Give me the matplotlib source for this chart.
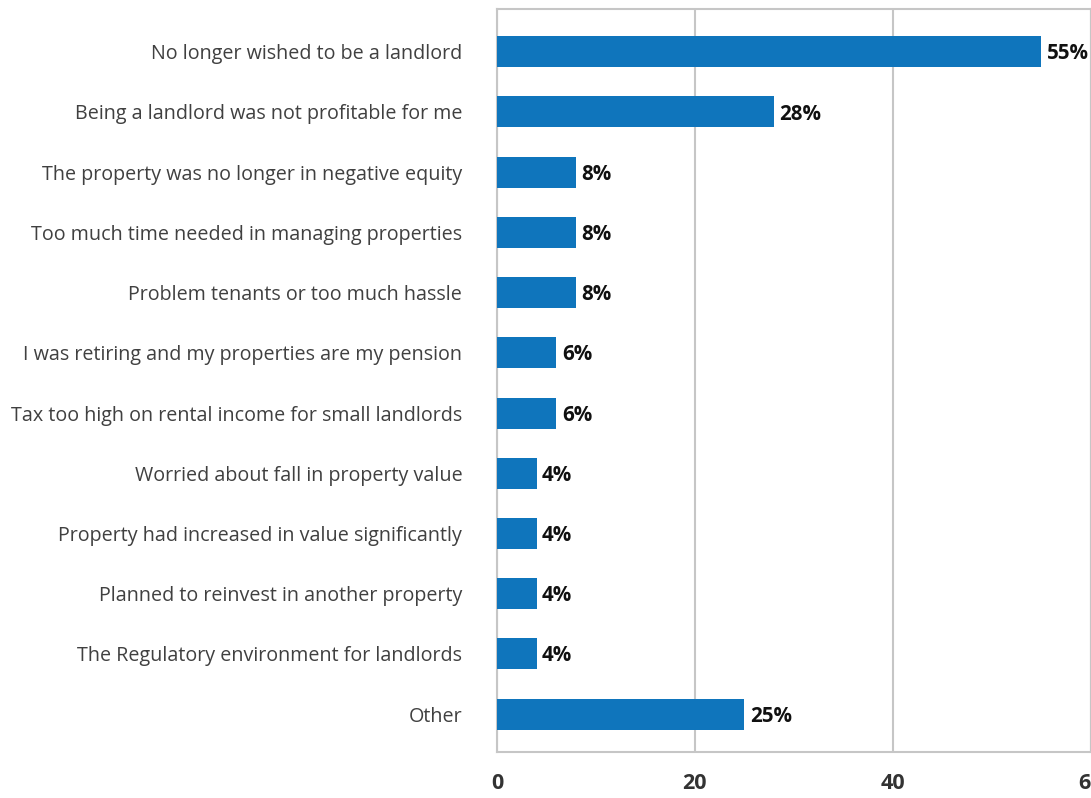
import matplotlib
matplotlib.use("Agg")
import matplotlib.pyplot as plt

# Reasons given for selling rental property (% of respondents)
reasons = [
    "No longer wished to be a landlord",
    "Being a landlord was not profitable for me",
    "The property was no longer in negative equity",
    "Too much time needed in managing properties",
    "Problem tenants or too much hassle",
    "I was retiring and my properties are my pension",
    "Tax too high on rental income for small landlords",
    "Worried about fall in property value",
    "Property had increased in value significantly",
    "Planned to reinvest in another property",
    "The Regulatory environment for landlords",
    "Other",
]
shares = [55, 28, 8, 8, 8, 6, 6, 4, 4, 4, 4, 25]
x_ticks = [0, 20, 40, 60]

plt.rcParams["font.family"] = ["Open Sans", "DejaVu Sans"]

BAR = "#0f75bc"
GRID = "#c6c6c6"

fig = plt.figure(figsize=(10.91, 7.98), dpi=100)
ax = fig.add_axes([497 / 1091, 1 - 752 / 798, (1090.5 - 497) / 1091, (752 - 9) / 798])

pos = list(range(len(reasons)))
ax.barh(pos, shares, height=0.515, color=BAR, zorder=3)

for y, v in zip(pos, shares):
    ax.annotate(f"{v}%", xy=(v, y), xytext=(4, -1.5), textcoords="offset points",
                va="center", ha="left", fontsize=14.8, fontweight="bold",
                color="#111111", zorder=4, annotation_clip=False)

ax.set_xlim(0, 60)
ax.set_ylim(11.63, -0.71)
ax.set_xticks(x_ticks)
ax.set_xticklabels([str(t) for t in x_ticks], fontsize=15.5, fontweight="bold",
                   color="#333333")
ax.set_yticks(pos)
ax.set_yticklabels(reasons, fontsize=14.2, color="#404040")
ax.tick_params(axis="both", length=0)
ax.tick_params(axis="x", pad=15)
ax.tick_params(axis="y", pad=25)

ax.xaxis.grid(True, color=GRID, linewidth=1.5, zorder=0)
ax.yaxis.grid(False)
for side in ["left", "bottom", "top", "right"]:
    ax.spines[side].set_color(GRID)
    ax.spines[side].set_linewidth(1.5)

fig.savefig("out.png", dpi=100)
